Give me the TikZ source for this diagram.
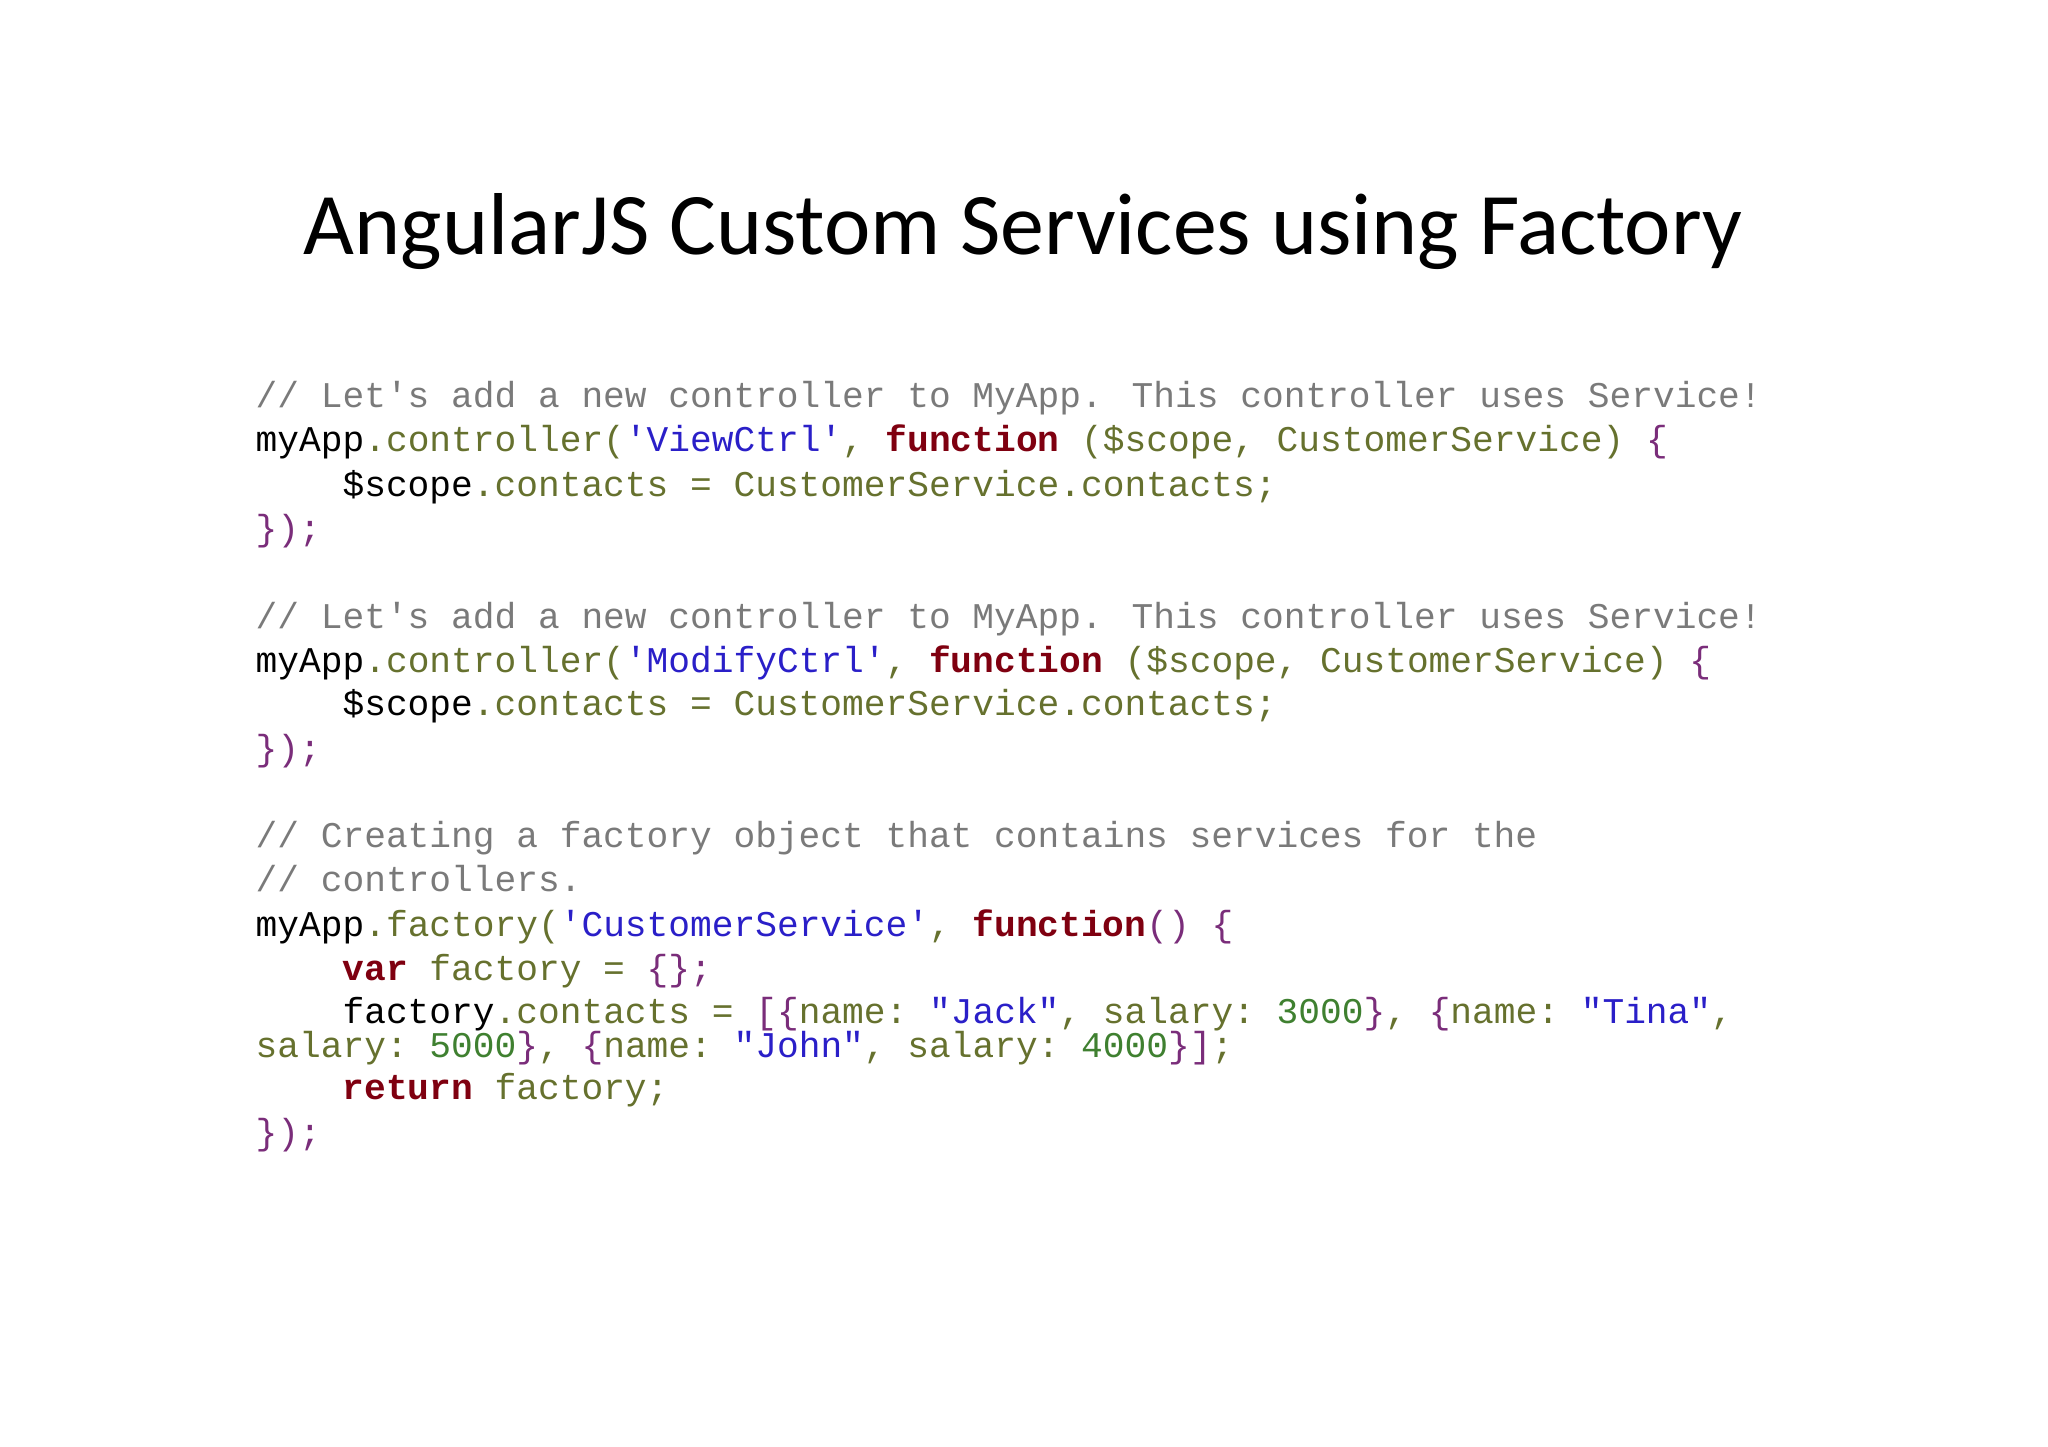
\documentclass[tikz,border=0pt]{standalone}
\usepackage{fontspec}
\setmainfont{Carlito}
\newfontfamily\codefont{Liberation Mono}
\definecolor{cmtgray}{HTML}{7A7A7A}
\definecolor{codeolive}{HTML}{66712E}
\definecolor{codeblue}{HTML}{2A1FC8}
\definecolor{codered}{HTML}{7F0010}
\definecolor{codepurple}{HTML}{7A2D7A}
\definecolor{codegreen}{HTML}{3F8030}
\newcommand{\codecm}[1]{\textcolor{cmtgray}{#1}}
\newcommand{\codeol}[1]{\textcolor{codeolive}{#1}}
\newcommand{\codest}[1]{\textcolor{codeblue}{#1}}
\newcommand{\codekw}[1]{\textcolor{codered}{\bfseries #1}}
\newcommand{\codenm}[1]{\textcolor{codegreen}{#1}}
\newcommand{\codepu}[1]{\textcolor{codepurple}{#1}}
\newcommand{\codeind}{\hspace*{2.4em}}
\begin{document}
\begin{tikzpicture}[
        code/.style={anchor=base west, inner sep=0pt, font=\codefont\fontsize{10.3}{12}\selectfont}]
  \useasboundingbox (0,0) rectangle (20.48,-14.47);
  \node[anchor=base, inner sep=0pt, font=\fontsize{25}{30}\selectfont] (title) at (10.23,-2.55) {AngularJS Custom Services using Factory};

  % first controller
  \node[code] (l1) at (2.55,-4.075) {\codecm{// Let's add a new controller to MyApp. This controller uses Service!}};
  \node[code] (l2) at (2.55,-4.519) {myApp\codeol{.controller(}\codest{'ViewCtrl'}\codeol{,\ }\codekw{function}\codeol{\ (\$scope, CustomerService)\ }\codepu{\{}};
  \node[code] (l3) at (2.55,-4.963) {\codeind\$scope\codeol{.contacts = CustomerService.contacts;}};
  \node[code] (l4) at (2.55,-5.407) {\codepu{\});}};

  % second controller
  \node[code] (l5) at (2.55,-6.282) {\codecm{// Let's add a new controller to MyApp. This controller uses Service!}};
  \node[code] (l6) at (2.55,-6.726) {myApp\codeol{.controller(}\codest{'ModifyCtrl'}\codeol{,\ }\codekw{function}\codeol{\ (\$scope, CustomerService)\ }\codepu{\{}};
  \node[code] (l7) at (2.55,-7.157) {\codeind\$scope\codeol{.contacts = CustomerService.contacts;}};
  \node[code] (l8) at (2.55,-7.601) {\codepu{\});}};

  % factory
  \node[code] (l9) at (2.55,-8.476) {\codecm{// Creating a factory object that contains services for the}};
  \node[code] (l10) at (2.55,-8.920) {\codecm{// controllers.}};
  \node[code] (l11) at (2.55,-9.364) {myApp\codeol{.factory(}\codest{'CustomerService'}\codeol{,\ }\codekw{function}\codepu{()\ \{}};
  \node[code] (l12) at (2.55,-9.808) {\codeind\codekw{var}\codeol{\ factory =\ }\codepu{\{\};}};
  \node[code] (l13) at (2.55,-10.239) {\codeind factory\codeol{.contacts =\ }\codepu{[\{}\codeol{name:\ }\codest{"Jack"}\codeol{, salary:\ }\codenm{3000}\codepu{\}}\codeol{,\ }\codepu{\{}\codeol{name:\ }\codest{"Tina"}\codeol{,}};
  \node[code] (l14) at (2.55,-10.579) {\codeol{salary:\ }\codenm{5000}\codepu{\}}\codeol{,\ }\codepu{\{}\codeol{name:\ }\codest{"John"}\codeol{, salary:\ }\codenm{4000}\codepu{\}]}\codeol{;}};
  \node[code] (l15) at (2.55,-10.997) {\codeind\codekw{return}\codeol{\ factory;}};
  \node[code] (l16) at (2.55,-11.441) {\codepu{\});}};
\end{tikzpicture}
\end{document}
